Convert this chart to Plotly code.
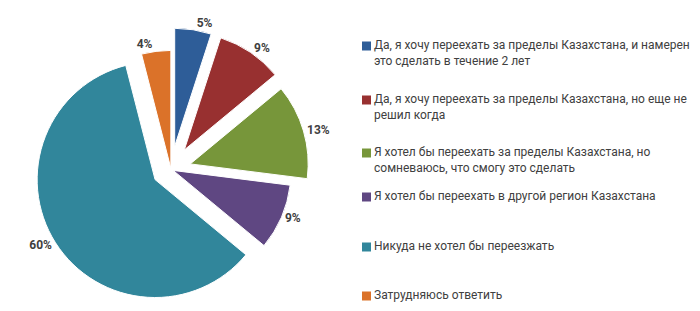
import plotly.graph_objects as go

# --- data ---
categories = [
    "Да, я хочу переехать за пределы Казахстана, и намерен<br>это сделать в течение 2 лет",
    "Да, я хочу переехать за пределы Казахстана, но еще не<br>решил когда",
    "Я хотел бы переехать за пределы Казахстана, но<br>сомневаюсь, что смогу это сделать",
    "Я хотел бы переехать в другой регион Казахстана",
    "Никуда не хотел бы переезжать",
    "Затрудняюсь ответить",
]
values = [5, 9, 13, 9, 60, 4]

# --- style / layout ---
colors = ["#2E5D98", "#983030", "#77963A", "#5F4782", "#31869B", "#DB7229"]
pulls = [0.2, 0.2, 0.17, 0.02, 0.16, 0.01]
W, H = 700, 311
legend_row_px = [46, 100, 153, 197, 247, 296]   # first-line centre of each legend entry
legend_marker_x = 362
legend_text_x = 373
text_color = "#404040"

fig = go.Figure(
    go.Pie(
        labels=categories,
        values=values,
        sort=False,
        direction="clockwise",
        rotation=0,
        pull=pulls,
        marker=dict(colors=colors, line=dict(color="white", width=1)),
        textposition="outside",
        texttemplate="<b>%{value}%</b>",
        textfont=dict(family="Roboto", size=12, color=text_color),
        domain=dict(x=[21 / W, 321 / W], y=[0, 283 / H]),
        hoverinfo="label+percent",
        showlegend=False,
    )
)

# legend drawn as annotations + square swatches
for cat, col, yc in zip(categories, colors, legend_row_px):
    fig.add_shape(
        type="rect", xref="paper", yref="paper",
        x0=legend_marker_x / W, x1=(legend_marker_x + 9) / W,
        y0=1 - (yc + 4.5) / H, y1=1 - (yc - 4.5) / H,
        fillcolor=col, line=dict(width=0),
    )
    fig.add_annotation(
        text=cat, xref="paper", yref="paper",
        x=legend_text_x / W, y=1 - (yc - 9) / H,
        xanchor="left", yanchor="top", align="left",
        showarrow=False, borderpad=0,
        font=dict(family="Roboto", size=12, color=text_color),
    )

fig.update_layout(
    width=W,
    height=H,
    margin=dict(l=0, r=0, t=0, b=0, autoexpand=False),
    paper_bgcolor="white",
    plot_bgcolor="white",
    showlegend=False,
)

fig.write_html("out.html")
